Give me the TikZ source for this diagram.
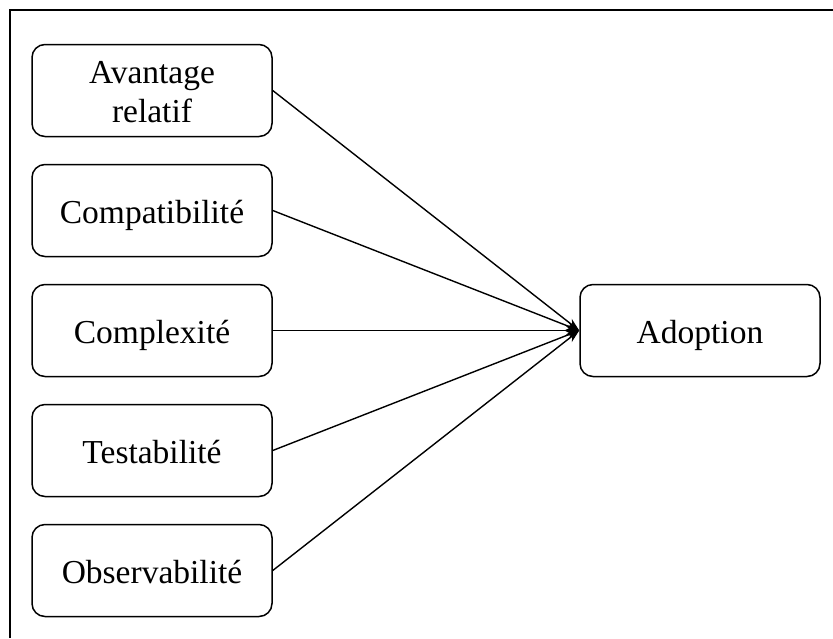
\documentclass[tikz,border=0pt]{standalone}
\usepackage{fontspec}
\setmainfont{Liberation Serif}
\usetikzlibrary{arrows.meta}
\begin{document}
\begin{tikzpicture}[x=1pt,y=-1pt,
  box/.style={draw, line width=1.5pt, rounded corners=13pt, minimum width=240pt, minimum height=92pt, align=center, font=\fontsize{33.5}{39}\selectfont, inner sep=0pt, text height=30pt, text depth=5pt},
  conn/.style={line width=1.4pt, -{Stealth[length=13pt,width=9pt]}}]
\useasboundingbox (0,0) rectangle (833,638);
\draw[line width=1.8pt] (10,638) -- (10,10) -- (833,10);
\node[box, text height=69pt, text depth=6pt] (a) at (152,90.5) {Avantage\\relatif};
\node[box] (b) at (152,210.5) {Compatibilité};
\node[box] (c) at (152,330.5) {Complexité};
\node[box] (d) at (152,450.5) {Testabilité};
\node[box] (e) at (152,570.5) {Observabilité};
\node[box] (f) at (700,330.5) {Adoption};
\foreach \n in {a,b,c,d,e} \draw[conn] (\n.east) -- (f.west);
\end{tikzpicture}
\end{document}
